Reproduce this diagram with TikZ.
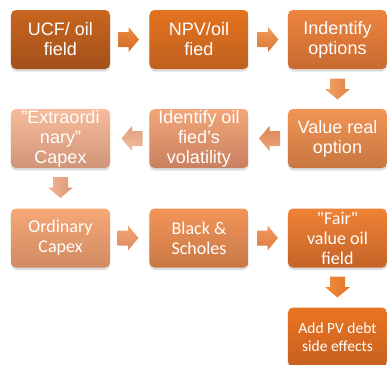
\documentclass[tikz,border=0pt]{standalone}
\usepackage{fontspec}
\setmainfont{Liberation Sans}
\newfontfamily\calibrifont{Carlito}
\definecolor{aT}{HTML}{C8661F}\definecolor{aB}{HTML}{A3501B}
\definecolor{bT}{HTML}{E3731F}\definecolor{bB}{HTML}{C0601F}
\definecolor{cT}{HTML}{EE8540}\definecolor{cB}{HTML}{C86A30}
\definecolor{dT}{HTML}{F29555}\definecolor{dB}{HTML}{C87640}
\definecolor{eT}{HTML}{F3A679}\definecolor{eB}{HTML}{C98060}
\definecolor{fT}{HTML}{F7BC9C}\definecolor{fB}{HTML}{D09478}
\definecolor{gT}{HTML}{F6A877}\definecolor{gB}{HTML}{D08A62}
\definecolor{hT}{HTML}{F3955A}\definecolor{hB}{HTML}{C87845}
\definecolor{iT}{HTML}{EF8235}\definecolor{iB}{HTML}{C46428}
\definecolor{jT}{HTML}{E97522}\definecolor{jB}{HTML}{C86020}
\tikzset{
  box/.style={rounded corners=5bp, minimum width=99bp, minimum height=59bp,
    inner sep=0pt, align=center, text=white,
    font=\fontsize{18bp}{20bp}\selectfont,
    preaction={fill=black, opacity=0.13, transform canvas={yshift=-2.5bp}}},
  cbox/.style={box, font=\calibrifont\fontsize{18bp}{20bp}\selectfont},
  shadebox/.style 2 args={top color=#1, bottom color=#2},
}
% block arrow: x, y, rotation, colour A (top side), colour B (bottom side)
\newcommand\blockarr[5]{%
  \definecolor{arrA}{HTML}{#4}\definecolor{arrB}{HTML}{#5}%
  \begin{scope}[shift={(#1,#2)}, rotate=#3]
    \shade[top color=arrA, bottom color=arrB]
      (-10.5,7.5) -- (0,7.5) -- (0,12.5) -- (10.5,0) -- (0,-12.5) -- (0,-7.5) -- (-10.5,-7.5) -- cycle;
  \end{scope}}
\newcommand\blockarrdown[4]{%
  \definecolor{arrA}{HTML}{#3}\definecolor{arrB}{HTML}{#4}%
  \begin{scope}[shift={(#1,#2)}, rotate=-90]
    \shade[left color=arrA, right color=arrB]
      (-10.5,7.5) -- (0,7.5) -- (0,12.5) -- (10.5,0) -- (0,-12.5) -- (0,-7.5) -- (-10.5,-7.5) -- cycle;
  \end{scope}}
\begin{document}
\begin{tikzpicture}[x=1bp,y=1bp]
\useasboundingbox (0,0) rectangle (387,-365);
\fill[white] (0,0) rectangle (387,-365);
\begin{scope}
\clip (0,0) rectangle (387,-365);
% row 1
\node[box, shadebox={aT}{aB}] (ucf) at (60.5,-39.5) {UCF/ oil\\field};
\node[box, shadebox={bT}{bB}] (npv) at (199,-39.5) {NPV/oil\\fied};
\node[box, shadebox={cT}{cB}] (ind) at (337.5,-39.5) {Indentify\\options};
% row 2
\node[box, shadebox={dT}{dB}] (val) at (337.5,-138.5) {Value real\\option};
\node[box, shadebox={eT}{eB}] (vol) at (199,-138.5) {Identify oil\\fied\symbol{39}s\\volatility};
\node[box, shadebox={fT}{fB}] (ext) at (60.5,-138.5) {\symbol{34}Extraordi\\nary\symbol{34}\\Capex};
% row 3
\node[cbox, shadebox={gT}{gB}] (ord) at (60.5,-238) {Ordinary\\Capex};
\node[cbox, shadebox={hT}{hB}] (bs) at (199,-238) {Black \&\\Scholes};
\node[cbox, shadebox={iT}{iB}] (fair) at (337.5,-238) {\symbol{34}Fair\symbol{34}\\value oil\\field};
% row 4
\node[cbox, shadebox={jT}{jB}, font=\calibrifont\fontsize{15.5bp}{18bp}\selectfont] (add) at (337.5,-337) {Add PV debt\\side effects};
% arrows
\blockarr{128.5}{-39.5}{0}{EA8A3E}{D06A26}
\blockarr{268}{-39.5}{0}{F29A5A}{D87838}
\blockarrdown{337.5}{-89}{F4A368}{E08446}
\blockarr{269.5}{-138.5}{180}{D88558}{F3A678}
\blockarr{132}{-138.5}{180}{DDA080}{F6BC9C}
\blockarrdown{60.5}{-187.5}{F3B493}{DC9878}
\blockarr{128}{-238}{0}{F5A676}{D98C60}
\blockarr{267.5}{-238}{0}{F59A5C}{D87C40}
\blockarrdown{337.5}{-287}{F08C40}{E07424}
\end{scope}
\end{tikzpicture}
\end{document}
